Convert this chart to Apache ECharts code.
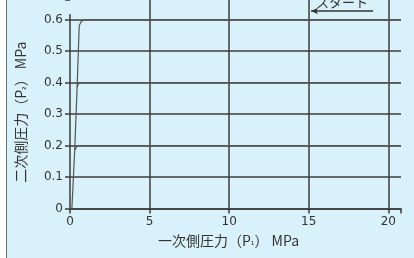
<!DOCTYPE html>
<html><head><meta charset="utf-8">
<script src="https://cdn.jsdelivr.net/npm/echarts@6/dist/echarts.min.js"></script>
<style>
html,body{margin:0;padding:0;background:#fff;}
#c{position:absolute;left:6px;top:0;width:407px;height:258px;border-left:1px solid #6e6e6e;background:#d9f1fb;}
</style></head><body>
<div id="c"></div>
<script>
const xTicks = [0, 5, 10, 15, 20];
const yTicks = [0, 0.1, 0.2, 0.3, 0.4, 0.5, 0.6];
const curve06 = [[0.12,0],[0.3,0.19],[0.45,0.39],[0.58,0.58],[0.72,0.595],[1.0,0.6],[20.8,0.6]];
const curve04 = [[0.45,0.385],[0.55,0.4],[20.8,0.4]];
const curve02 = [[0.3,0.185],[0.45,0.2],[20.8,0.2]];
const yAxisLine = [[0,0],[0,0.617]];
const startArrow = [[15.15,0.627],[19.05,0.627]];
const startLabel = 'スタート';
const xName = ['一次側圧力', '（P', '₁', '） MPa'];
const yName = ['二次側圧力', '（P', '₂', '） MPa'];

const chart = echarts.init(document.getElementById('c'));
const gridCol = '#3d3d3d';
const font = 'DejaVu Sans';
const cjk = 'Noto Sans CJK JP';
const nameRich = {
  j:{fontFamily:cjk,fontSize:14,color:'#333'},
  s:{fontFamily:'DejaVu Sans',fontSize:9,color:'#333',verticalAlign:'bottom',padding:[4,0,0,0]}
};
const nameFmt = a => `{j|${a[0]}}{j|${a[1]}}{s|${a[2]}}{j|${a[3]}}`;
chart.setOption({
  animation:false,
  grid:{left:63,right:13,top:0,bottom:49.5,containLabel:false,outerBoundsMode:'none'},
  xAxis:{type:'value',min:0,max:20.8,interval:5,
    axisLine:{lineStyle:{color:gridCol,width:1.5}},
    axisTick:{length:5,lineStyle:{color:gridCol,width:1.5}},
    splitLine:{show:true,showMinLine:false,showMaxLine:false,lineStyle:{color:gridCol,width:1.5}},
    axisLabel:{color:'#333',fontSize:12,fontFamily:font,margin:7,
      formatter:v=>xTicks.includes(v)?String(v):''},
    name:nameFmt(xName),nameLocation:'middle',nameGap:25,
    nameTextStyle:{color:'#333',fontSize:14,fontFamily:cjk,padding:[0,14,0,0],rich:nameRich}
  },
  yAxis:{type:'value',min:0,max:0.662,interval:0.1,
    axisLine:{show:false},
    axisTick:{show:true,length:5,lineStyle:{color:gridCol,width:1.5}},
    splitLine:{show:true,showMaxLine:false,lineStyle:{color:gridCol,width:1.5}},
    axisLabel:{color:'#333',fontSize:12,fontFamily:font,margin:7,
      formatter:v=>{const t=yTicks.find(y=>Math.abs(y-v)<1e-6);return t===undefined?'':(t===0?'0':t.toFixed(1));}},
    name:nameFmt(yName),nameLocation:'middle',nameGap:42,nameRotate:90,
    nameTextStyle:{color:'#333',fontSize:14,fontFamily:cjk,padding:[0,16,0,0],rich:nameRich}
  },
  series:[
    {type:'line',data:yAxisLine,symbol:'none',silent:true,lineStyle:{color:gridCol,width:1.5}},
    {type:'line',data:curve06,symbol:'none',lineStyle:{color:'#555',width:1.2},
      markLine:{silent:true,symbol:['arrow','none'],symbolSize:[5,7],
        lineStyle:{color:'#333',width:1.5,type:'solid'},
        label:{show:true,position:'middle',formatter:startLabel,color:'#333',fontSize:13,fontFamily:cjk,distance:2},
        data:[[{coord:startArrow[0]},{coord:startArrow[1]}]]}},
    {type:'line',data:curve04,symbol:'none',lineStyle:{color:'#555',width:1.2}},
    {type:'line',data:curve02,symbol:'none',lineStyle:{color:'#555',width:1.2}}
  ]
});
</script></body></html>
